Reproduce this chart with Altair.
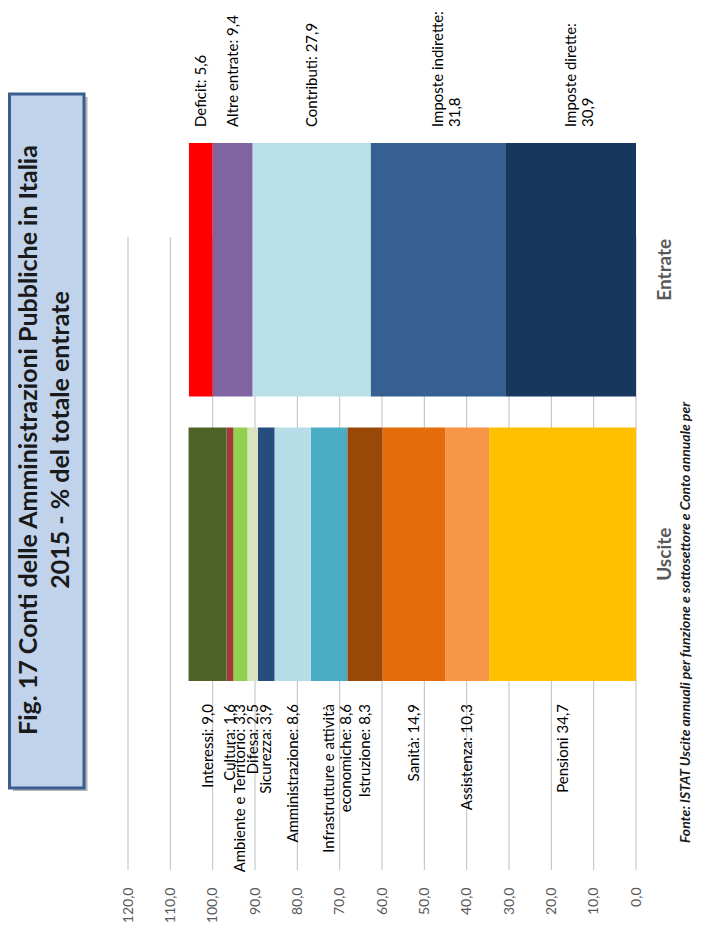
import altair as alt
import pandas as pd

CATEGORIES = ["Entrate", "Uscite"]

USCITE_NAMES = ["Pensioni", "Assistenza", "Sanità", "Istruzione",
                "Infrastrutture e attività economiche", "Amministrazione",
                "Sicurezza", "Difesa", "Ambiente e Territorio", "Cultura", "Interessi"]
USCITE_VALUES = [34.7, 10.3, 14.9, 8.3, 8.6, 8.6, 3.9, 2.5, 3.3, 1.6, 9.0]
USCITE_LABELS = ["Pensioni 34,7", "Assistenza: 10,3", "Sanità: 14,9", "Istruzione: 8,3",
                 "Infrastrutture e attività\neconomiche: 8,6", "Amministrazione: 8,6",
                 "Sicurezza: 3,9", "Difesa: 2,5", "Ambiente e Territorio: 3,3",
                 "Cultura: 1,6", "Interessi: 9,0"]
USCITE_COLORS = ["#FFC000", "#F79646", "#E46C0A", "#984807", "#4BACC6", "#B7DEE8",
                 "#254E7E", "#D7E4BD", "#92D050", "#A33A3A", "#4F6228"]

ENTRATE_NAMES = ["Imposte dirette", "Imposte indirette", "Contributi", "Altre entrate", "Deficit"]
ENTRATE_VALUES = [30.9, 31.8, 27.9, 9.4, 5.6]
ENTRATE_LABELS = ["Imposte dirette:\n30,9", "Imposte indirette:\n31,8", "Contributi: 27,9",
                  "Altre entrate: 9,4", "Deficit: 5,6"]
ENTRATE_COLORS = ["#17375E", "#376092", "#B9DFE9", "#8064A2", "#FF0000"]

AXIS_TICKS = [0, 10, 20, 30, 40, 50, 60, 70, 80, 90, 100, 110, 120]
TITLE_LINES = ["Fig. 17  Conti delle Amministrazioni Pubbliche in Italia",
               "2015 - % del totale entrate"]
SOURCE = "Fonte: ISTAT Uscite annuali per funzione e sottosettore e Conto annuale per"

FONT = "Lato"

rows = []
for i, (n, v, l) in enumerate(zip(USCITE_NAMES, USCITE_VALUES, USCITE_LABELS)):
    rows.append({"side": "Uscite", "name": n, "value": v, "label": l, "ord": i})
for i, (n, v, l) in enumerate(zip(ENTRATE_NAMES, ENTRATE_VALUES, ENTRATE_LABELS)):
    rows.append({"side": "Entrate", "name": n, "value": v, "label": l, "ord": i})
df = pd.DataFrame(rows)

xscale = alt.Scale(domain=[0, 148.35], reverse=True, nice=False, zero=True)
yscale = alt.Scale(domain=CATEGORIES, range=[135, 673], paddingInner=0.109, paddingOuter=0)

xaxis = alt.Axis(values=AXIS_TICKS, domain=False, ticks=False, grid=False,
                 labelAngle=270, labelAlign="right", labelBaseline="middle",
                 labelPadding=17, labelFontSize=14, labelColor="#595959",
                 labelFont=FONT, labelOverlap=False, title=None,
                 labelExpr="replace(format(datum.value, '.1f'), '.', ',')")

grid = alt.Chart(pd.DataFrame({"g": AXIS_TICKS})).mark_rule(color="#BFBFBF", strokeWidth=1).encode(
    x=alt.X("g:Q", scale=xscale, axis=xaxis, title=None),
    y=alt.value(229),
    y2=alt.value(862),
)

bars = alt.Chart(df).mark_bar().encode(
    x=alt.X("value:Q", stack="zero", scale=xscale, title=None, axis=xaxis),
    y=alt.Y("side:N", scale=yscale, title=None,
            axis=alt.Axis(orient="right", domain=False, ticks=False, grid=False,
                          labelAngle=270, labelAlign="center", labelBaseline="top",
                          labelPadding=19, labelFontSize=19, labelFontWeight="bold",
                          labelColor="#595959", labelFont=FONT, title=None)),
    color=alt.Color("name:N", scale=alt.Scale(domain=USCITE_NAMES + ENTRATE_NAMES,
                                              range=USCITE_COLORS + ENTRATE_COLORS),
                    legend=None),
    order=alt.Order("ord:Q", sort="ascending"),
)

lab_base = alt.Chart(df).transform_stack(
    stack="value", groupby=["side"], sort=[alt.SortField("ord", order="ascending")],
    as_=["v0", "v1"]
).transform_calculate(mid="(datum.v0 + datum.v1) / 2")

lab_E = lab_base.transform_filter("datum.side == 'Entrate'").mark_text(
    angle=270, align="left", baseline="middle", lineBreak="\n", lineHeight=17,
    font=FONT, fontSize=15, color="#000000"
).encode(x=alt.X("mid:Q", scale=xscale, axis=xaxis, title=None), y=alt.value(119), text="label:N")

lab_U = lab_base.transform_filter("datum.side == 'Uscite'").mark_text(
    angle=270, align="right", baseline="middle", lineBreak="\n", lineHeight=17,
    font=FONT, fontSize=15, color="#000000"
).encode(x=alt.X("mid:Q", scale=xscale, axis=xaxis, title=None), y=alt.value(696), text="label:N")

one = pd.DataFrame({"k": [0]})
shadow = alt.Chart(one).mark_rect(fill="#7F7F7F", opacity=0.6).encode(
    x=alt.value(5), x2=alt.value(79.5), y=alt.value(89), y2=alt.value(783))
box = alt.Chart(one).mark_rect(fill="#C0D3EB", stroke="#3B5E91", strokeWidth=3).encode(
    x=alt.value(1.5), x2=alt.value(76), y=alt.value(86), y2=alt.value(780))

t1 = alt.Chart(pd.DataFrame({"t": [TITLE_LINES[0]]})).mark_text(
    angle=270, align="center", baseline="middle", font=FONT, fontSize=25,
    fontWeight="bold", color="#1A1A1A"
).encode(x=alt.value(21), y=alt.value(432), text="t:N")
t2 = alt.Chart(pd.DataFrame({"t": [TITLE_LINES[1]]})).mark_text(
    angle=270, align="center", baseline="middle", font=FONT, fontSize=25,
    fontWeight="bold", color="#1A1A1A"
).encode(x=alt.value(53), y=alt.value(432), text="t:N")

src = alt.Chart(pd.DataFrame({"t": [SOURCE]})).mark_text(
    angle=270, align="left", baseline="middle", font=FONT, fontSize=14,
    fontWeight="bold", fontStyle="italic", color="#1A1A1A"
).encode(x=alt.value(678), y=alt.value(835), text="t:N")

chart = alt.layer(grid, bars, lab_E, lab_U, shadow, box, t1, t2, src).properties(
    width=628, height=862,
    autosize=alt.AutoSizeParams(type="none"),
    padding={"left": 0, "top": 0, "right": 59, "bottom": 53},
    background="white",
).configure_view(stroke=None)

chart.save("out.html", embed_options={"renderer": "svg", "actions": False})
